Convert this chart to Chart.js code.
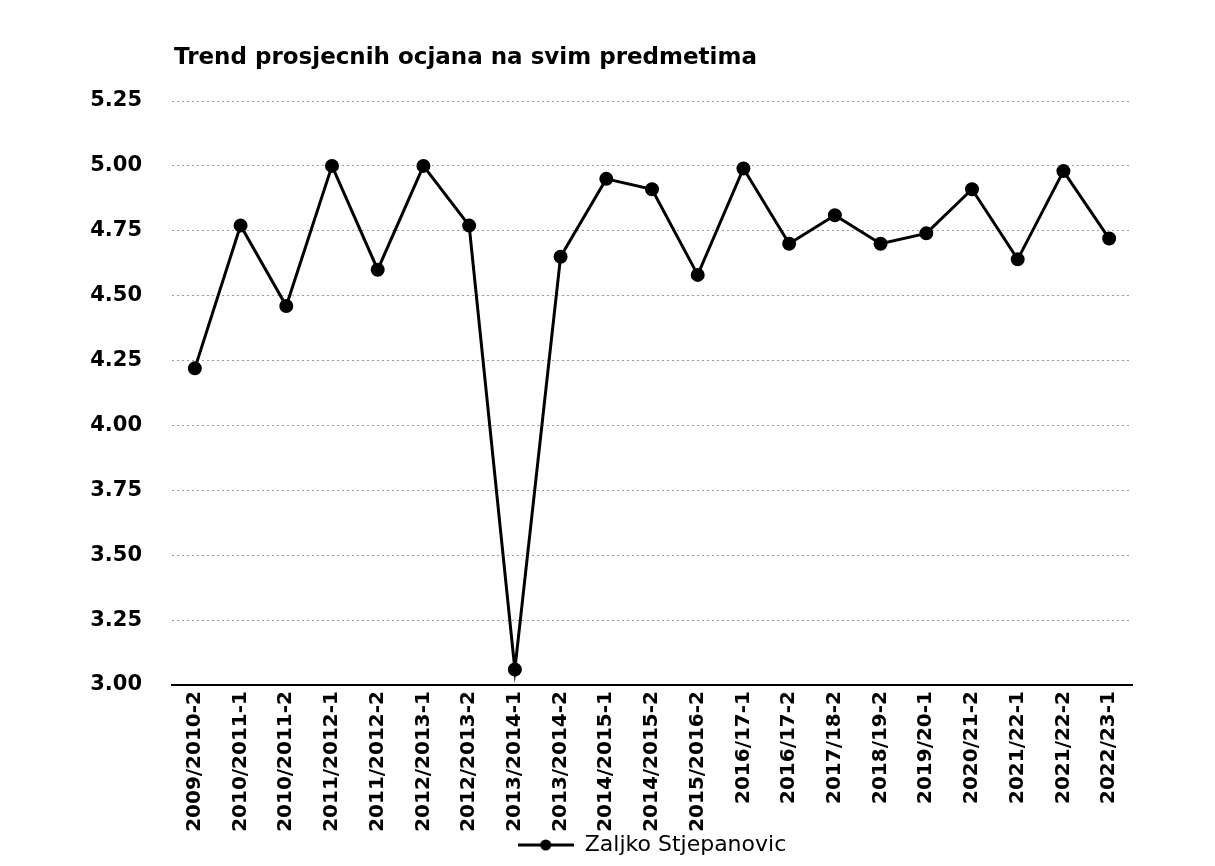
<!DOCTYPE html>
<html>
<head>
<meta charset="utf-8">
<script src="https://cdn.jsdelivr.net/npm/chart.js@4"></script>
<style>
  html, body { margin: 0; padding: 0; background: #fff; }
  #wrap { width: 1215px; height: 866px; }
</style>
</head>
<body>
<div id="wrap"><canvas id="trendChart" width="1215" height="866"></canvas></div>
<script>
const chartTitle = 'Trend prosjecnih ocjana na svim predmetima';
const seriesName = 'Zaljko Stjepanovic';
const semesters = [
  '2009/2010-2', '2010/2011-1', '2010/2011-2', '2011/2012-1', '2011/2012-2',
  '2012/2013-1', '2012/2013-2', '2013/2014-1', '2013/2014-2', '2014/2015-1',
  '2014/2015-2', '2015/2016-2', '2016/17-1', '2016/17-2', '2017/18-2',
  '2018/19-2', '2019/20-1', '2020/21-2', '2021/22-1', '2021/22-2', '2022/23-1'
];
const averages = [
  4.22, 4.77, 4.46, 5.00, 4.60,
  5.00, 4.77, 3.06, 4.65, 4.95,
  4.91, 4.58, 4.99, 4.70, 4.81,
  4.70, 4.74, 4.91, 4.64, 4.98, 4.72
];
const yMin = 3.0, yMax = 5.25, yStep = 0.25;

const font = 'DejaVu Sans';

// legend marker: line with a dot in the middle
const marker = document.createElement('canvas');
marker.width = 56; marker.height = 14;
let mctx = marker.getContext('2d');
mctx.strokeStyle = '#000';
mctx.lineWidth = 3;
mctx.beginPath(); mctx.moveTo(0, 7); mctx.lineTo(56, 7); mctx.stroke();
mctx.fillStyle = '#000';
mctx.beginPath(); mctx.arc(28, 7, 5.5, 0, Math.PI * 2); mctx.fill();

const titlePlugin = {
  id: 'leftTitle',
  afterDraw(chart) {
    const c = chart.ctx;
    c.save();
    c.font = 'bold 23px ' + font;
    c.fillStyle = '#000';
    c.textBaseline = 'middle';
    c.fillText(chartTitle, chart.chartArea.left + 2, 58);
    c.restore();
  }
};

let ctx = document.getElementById('trendChart');
window.trendChart = new Chart(ctx, {
  type: 'line',
  data: {
    labels: semesters,
    datasets: [{
      label: seriesName,
      data: averages,
      borderColor: '#000',
      backgroundColor: '#000',
      borderWidth: 3,
      pointRadius: 5.5,
      pointHoverRadius: 5.5,
      pointStyle: 'circle',
      fill: false,
      tension: 0
    }]
  },
  options: {
    responsive: false,
    animation: false,
    layout: { padding: { top: 101, right: 83, bottom: 0, left: 0 } },
    scales: {
      x: {
        offset: true,
        grid: { display: false, drawTicks: false },
        border: { display: true, color: '#000', width: 2 },
        ticks: {
          color: '#000',
          font: { family: font, size: 20, weight: 'bold' },
          maxRotation: 90, minRotation: 90,
          autoSkip: false,
          padding: 6
        },
        afterFit(scale) { scale.height = 147; }
      },
      y: {
        min: yMin, max: yMax,
        grid: { color: '#9a9a9a', lineWidth: 1, drawTicks: false },
        border: { display: false, dash: [2, 3] },
        ticks: {
          stepSize: yStep,
          color: '#000',
          font: { family: font, size: 21, weight: 'bold' },
          padding: 30,
          callback: v => Number(v).toFixed(2)
        },
        afterFit(scale) { scale.width = 172; }
      }
    },
    plugins: {
      title: { display: false },
      tooltip: { enabled: false },
      legend: {
        display: true,
        position: 'bottom',
        fullSize: false,
        labels: {
          color: '#000',
          font: { family: font, size: 22, lineHeight: 1 },
          usePointStyle: true,
          pointStyleWidth: 56,
          padding: 2,
          generateLabels(chart) {
            return [{ text: seriesName, pointStyle: marker, fillStyle: '#000', strokeStyle: '#000', lineWidth: 0, datasetIndex: 0 }];
          }
        }
      }
    }
  },
  plugins: [titlePlugin]
});
</script>
</body>
</html>
